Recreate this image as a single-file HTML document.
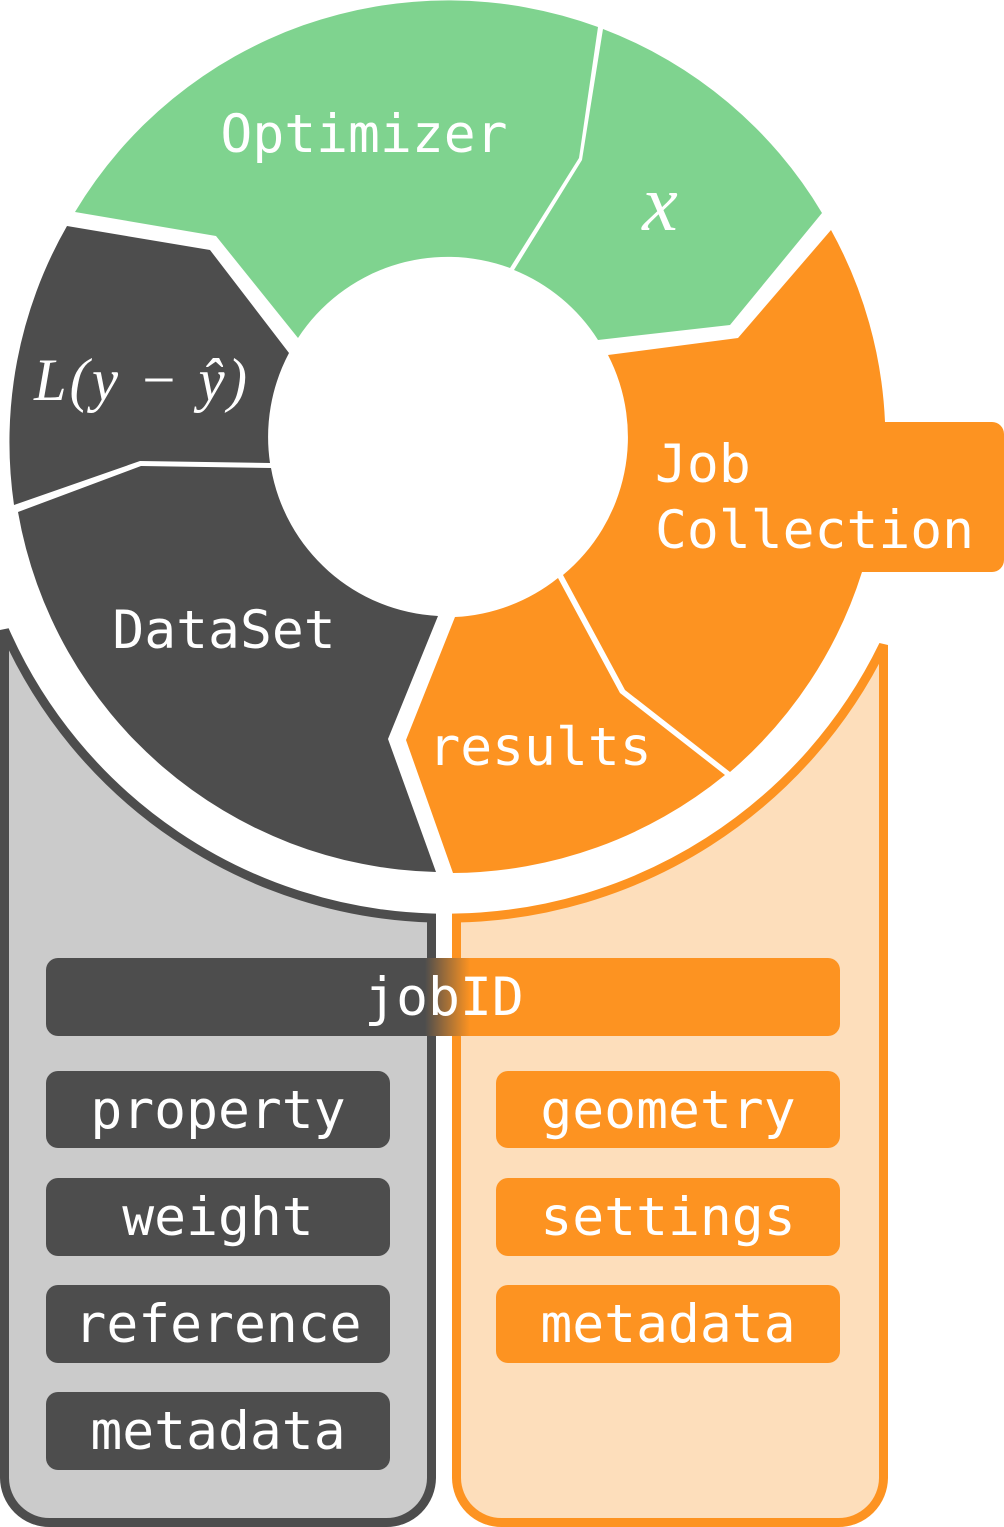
<!DOCTYPE html>
<html><head><meta charset="utf-8"><style>
html,body{margin:0;padding:0;background:#fff;}
svg{display:block;}
.t{font-family:"DejaVu Sans Mono","Liberation Mono",monospace;fill:#fff;font-size:53px;}
.m{font-family:"Liberation Serif","DejaVu Serif",serif;font-style:italic;fill:#fff;}
</style></head><body>
<svg width="1004" height="1527" viewBox="0 0 1004 1527" xmlns="http://www.w3.org/2000/svg">
<defs>
<linearGradient id="jg" gradientUnits="userSpaceOnUse" x1="425" y1="0" x2="470" y2="0">
<stop offset="0" stop-color="#4d4d4d"/><stop offset="1" stop-color="#fd9321"/>
</linearGradient>
</defs>
<path d="M4.5,630 A482,482 0 0 0 431.5,918 L431.5,1478 A45,45 0 0 1 386.5,1522.5 L49.5,1522.5 A45,45 0 0 1 4.5,1478 Z" fill="#cbcbcb" stroke="#4d4d4d" stroke-width="9"/>
<path d="M883.5,645 A485,485 0 0 1 456.5,918 L456.5,1478 A45,45 0 0 0 501.5,1522.5 L838.5,1522.5 A45,45 0 0 0 883.5,1478 Z" fill="#fddebb" stroke="#fd9321" stroke-width="9"/>
<path d="M75,212 A435,435 0 0 1 598,27 L579,158 L510,268 A179,179 0 0 0 298,338 L216,236 Z" fill="#7fd38f"/>
<path d="M603,29 A435,435 0 0 1 822,213 L730,325 L598,340 A179,179 0 0 0 514,270 L582,160 Z" fill="#7fd38f"/>
<path d="M831,230 A435,435 0 0 1 885,422 L992,422 A12,12 0 0 1 1004,434 L1004,560 A12,12 0 0 1 992,572 L862,572 A435,435 0 0 1 730,772 L625,690 L563,575 A179,179 0 0 0 608,355 L738,338 Z" fill="#fd9321"/>
<path d="M558,578 L620,693 L725,775 A435,435 0 0 1 453,873 L406,740 L455,617 A179,179 0 0 0 558,578 Z" fill="#fd9321"/>
<path d="M436,872 A435,435 0 0 1 18,512 L141,466 L271,468 A179,179 0 0 0 438,616 L388,739 Z" fill="#4d4d4d"/>
<path d="M14,505 A435,435 0 0 1 67,226 L210,250 L289,353 A179,179 0 0 0 270,463 L140,461 Z" fill="#4d4d4d"/>
<text class="t" x="364" y="152" text-anchor="middle">Optimizer</text>
<text class="m" x="660" y="230" text-anchor="middle" style="font-size:80px">x</text>
<text class="m" x="34" y="400" style="font-size:60px;letter-spacing:3px" textLength="216" lengthAdjust="spacingAndGlyphs">L(y − ŷ)</text>
<text class="t" x="655" y="482">Job</text>
<text class="t" x="655" y="548">Collection</text>
<text class="t" x="224" y="648" text-anchor="middle">DataSet</text>
<text class="t" x="540" y="765" text-anchor="middle">results</text>
<rect x="46" y="958" width="794" height="78" rx="12" fill="url(#jg)"/>
<text class="t" x="444" y="1015" text-anchor="middle">jobID</text>
<g fill="#4d4d4d">
<rect x="46" y="1071" width="344" height="77" rx="12"/>
<rect x="46" y="1178" width="344" height="78" rx="12"/>
<rect x="46" y="1285" width="344" height="78" rx="12"/>
<rect x="46" y="1392" width="344" height="78" rx="12"/>
</g>
<g fill="#fd9321">
<rect x="496" y="1071" width="344" height="77" rx="12"/>
<rect x="496" y="1178" width="344" height="78" rx="12"/>
<rect x="496" y="1285" width="344" height="78" rx="12"/>
</g>
<text class="t" x="218" y="1128" text-anchor="middle">property</text>
<text class="t" x="218" y="1235" text-anchor="middle">weight</text>
<text class="t" x="218" y="1342" text-anchor="middle">reference</text>
<text class="t" x="218" y="1449" text-anchor="middle">metadata</text>
<text class="t" x="668" y="1128" text-anchor="middle">geometry</text>
<text class="t" x="668" y="1235" text-anchor="middle">settings</text>
<text class="t" x="668" y="1342" text-anchor="middle">metadata</text>
</svg>
</body></html>
